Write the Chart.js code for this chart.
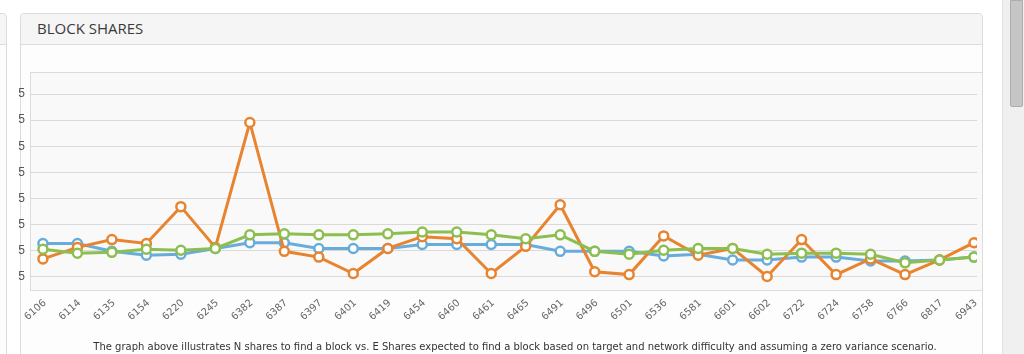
<!DOCTYPE html>
<html lang="en">
<head>
<meta charset="UTF-8">
<title>Block Shares</title>
<script src="https://cdn.jsdelivr.net/npm/chart.js@4.4.0/dist/chart.umd.min.js"></script>
<style>
  html, body { margin: 0; padding: 0; background: #fff; }
  body { width: 1024px; height: 354px; overflow: hidden; position: relative; font-family: "Open Sans", sans-serif; }
  .panel { position: absolute; top: 13px; height: 400px; border: 1px solid #dcdcdc; border-radius: 4px; background: #fdfdfd; box-sizing: border-box; }
  .panel .head { height: 31px; background: #f5f5f5; border-bottom: 1px solid #dcdcdc; border-radius: 4px 4px 0 0; box-sizing: border-box; }
  #leftPanel { left: -300px; width: 307px; }
  #mainPanel { left: 20px; width: 963px; }
  #mainPanel .head h3 { margin: 0; padding: 4px 0 0 16px; font-size: 15px; font-weight: normal; color: #3a3a3a; letter-spacing: 0; }
  #plotBox { position: absolute; left: 30px; top: 72px; width: 953px; height: 219px; box-sizing: border-box; background: #f9f9f9; border: 1px solid #dcdcdc; }
  #wrap { position: absolute; left: 18px; top: 72px; width: 966px; height: 282px; overflow: hidden; }
  #wrap canvas { position: absolute; left: -18px; top: 0; }
  #note { position: absolute; left: 20px; width: 990px; top: 341px; text-align: center; font-family: "DejaVu Sans", Verdana, sans-serif; font-size: 10px; color: #333; }
  #scroll { position: absolute; left: 1002px; top: 0; width: 22px; height: 354px; background: #f0f0f0; border-left: 1px solid #e2e2e2; box-sizing: border-box; }
  #thumb { position: absolute; left: 7px; top: 0; width: 13px; height: 107px; background: #c6c6c6; border: 1px solid #adadad; border-radius: 0 0 2px 2px; box-sizing: border-box; }
</style>
</head>
<body>
<div class="panel" id="leftPanel"><div class="head"></div></div>
<div class="panel" id="mainPanel"><div class="head"><h3>BLOCK SHARES</h3></div></div>
<div id="plotBox"></div>
<div id="wrap"><canvas id="shares" width="984" height="282"></canvas></div>
<div id="note">The graph above illustrates N shares to find a block vs. E Shares expected to find a block based on target and network difficulty and assuming a zero variance scenario.</div>
<div id="scroll"><div id="thumb"></div></div>

<script>
  // block heights on the x axis
  var blocks = [6106, 6114, 6135, 6154, 6220, 6245, 6382, 6387, 6397, 6401,
                6419, 6454, 6460, 6461, 6465, 6491, 6496, 6501, 6536, 6581,
                6601, 6602, 6722, 6724, 6758, 6766, 6817, 6943];
  // shares needed (orange)
  var nShares = [11.9, 16.3, 19.3, 17.8, 31.9, 16.3, 64.1, 14.8, 12.6, 6.3,
                 15.9, 20.4, 19.6, 6.3, 16.7, 32.6, 7.0, 5.9, 20.7, 13.3,
                 15.9, 5.2, 19.3, 5.9, 11.9, 5.9, 11.5, 18.1];
  // expected shares (green)
  var eShares = [15.6, 14.1, 14.4, 15.6, 15.2, 15.9, 21.1, 21.5, 21.1, 21.1,
                 21.5, 22.2, 22.2, 21.1, 19.6, 21.1, 14.8, 13.7, 15.2, 15.9,
                 15.9, 13.7, 14.1, 14.1, 13.7, 10.4, 11.5, 12.6];
  // blue series
  var bShares = [17.8, 17.8, 14.8, 13.3, 13.7, 15.9, 18.1, 18.1, 15.9, 15.9,
                 15.9, 17.4, 17.4, 17.4, 17.4, 14.8, 14.8, 14.8, 13.0, 13.7,
                 11.5, 11.5, 12.6, 12.6, 11.1, 11.1, 11.5, 12.6];
  var yTicks = [5, 15, 25, 35, 45, 55, 65, 75];

  function pts(arr) {
    return arr.map(function (v, i) { return {x: i, y: v}; });
  }
  function line(arr, color, order) {
    return {
      data: pts(arr),
      borderColor: color,
      backgroundColor: '#fff',
      borderWidth: 3,
      pointRadius: 4.5,
      pointBorderWidth: 2.5,
      pointBackgroundColor: '#fff',
      pointBorderColor: color,
      tension: 0,
      fill: false,
      order: order
    };
  }

  var ctx = document.getElementById('shares');
  var chart = new Chart(ctx, {
    type: 'line',
    data: {
      datasets: [
        line(eShares, '#8cbf4f', 1),
        line(nShares, '#e8842f', 2),
        line(bShares, '#68acdc', 3)
      ]
    },
    options: {
      responsive: false,
      animation: false,
      devicePixelRatio: 1,
      layout: { padding: 0 },
      plugins: { legend: { display: false }, tooltip: { enabled: false } },
      scales: {
        x: {
          type: 'linear',
          min: -0.3746,
          max: 27.086,
          grid: { display: false, drawTicks: false },
          border: { display: false },
          afterBuildTicks: function (s) {
            s.ticks = blocks.map(function (b, i) { return {value: i}; });
          },
          afterFit: function (s) {
            s.height = 64;
            s.paddingLeft = 0;
            s.paddingRight = 0;
          },
          ticks: {
            autoSkip: false,
            minRotation: 42,
            maxRotation: 42,
            padding: 7,
            labelOffset: 2,
            color: '#666',
            font: { family: 'DejaVu Sans', size: 10 },
            callback: function (v) { return String(blocks[v]); }
          }
        },
        y: {
          min: 0,
          max: 80.74,
          grid: { color: '#d9d9d9', drawTicks: false },
          border: { display: false },
          afterBuildTicks: function (s) {
            s.ticks = yTicks.map(function (v) { return {value: v}; });
          },
          afterFit: function (s) {
            s.width = 30;
            s.paddingTop = 0;
            s.paddingBottom = 0;
          },
          ticks: {
            padding: 5,
            color: '#555',
            font: { family: 'Liberation Sans', size: 12 }
          }
        }
      }
    }
  });
</script>
</body>
</html>
